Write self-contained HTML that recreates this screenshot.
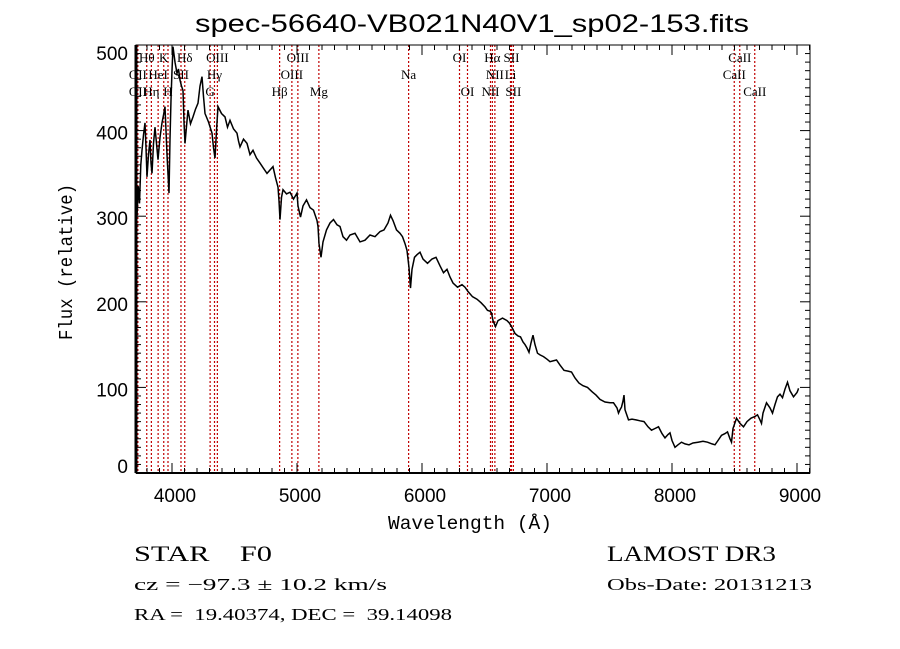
<!DOCTYPE html>
<html><head><meta charset="utf-8"><style>
html,body{margin:0;padding:0;background:#fff;}
svg{display:block;}
text{white-space:pre;}
</style></head><body>
<svg id="chart" width="900" height="649" viewBox="0 0 900 649" xmlns="http://www.w3.org/2000/svg">
<rect x="0" y="0" width="900" height="649" fill="#fff"/>
<text x="472" y="32" text-anchor="middle" font-family="Liberation Sans, sans-serif" font-size="25" textLength="554" lengthAdjust="spacingAndGlyphs">spec-56640-VB021N40V1_sp02-153.fits</text>
<g id="lines"></g>
<g id="spec"></g>
<g id="axes"></g>
<text x="470" y="529" text-anchor="middle" font-family="Liberation Mono, monospace" font-size="19" textLength="164" lengthAdjust="spacingAndGlyphs">Wavelength (Å)</text>
<text transform="translate(72,262) rotate(-90)" text-anchor="middle" font-family="Liberation Mono, monospace" font-size="19" textLength="156" lengthAdjust="spacingAndGlyphs">Flux (relative)</text>
<g font-family="Liberation Serif, serif" fill="#000">
<text x="134" y="561" font-size="22" textLength="138" lengthAdjust="spacingAndGlyphs" xml:space="preserve">STAR    F0</text>
<text x="607" y="561" font-size="22" textLength="169" lengthAdjust="spacingAndGlyphs">LAMOST DR3</text>
<text x="134" y="590" font-size="17" textLength="253" lengthAdjust="spacingAndGlyphs">cz = −97.3 ± 10.2 km/s</text>
<text x="607" y="590" font-size="17" textLength="205" lengthAdjust="spacingAndGlyphs">Obs-Date: 20131213</text>
<text x="134" y="620" font-size="17" textLength="318" lengthAdjust="spacingAndGlyphs" xml:space="preserve">RA =  19.40374, DEC =  39.14098</text>
</g>
</svg>
<script>
const wavelengths=[3712,3714,3716,3720,3730,3740,3750,3760,3772,3784,3792,3800,3812,3824,3832,3840,3852,3864,3876,3888,3904,3920,3932,3944,3960,3976,3984,3992,4000,4008,4024,4040,4052,4064,4076,4088,4096,4104,4116,4128,4148,4168,4188,4208,4224,4240,4252,4264,4292,4320,4332,4344,4356,4368,4396,4424,4444,4464,4492,4520,4532,4544,4572,4600,4624,4648,4676,4704,4732,4760,4784,4808,4828,4848,4856,4864,4876,4888,4916,4944,4972,5000,5008,5028,5048,5076,5104,5132,5160,5168,5176,5192,5208,5236,5264,5292,5320,5344,5368,5396,5424,5464,5504,5544,5584,5624,5664,5696,5728,5748,5768,5796,5824,5844,5864,5880,5896,5908,5920,5940,5960,5984,6008,6044,6080,6112,6144,6172,6200,6224,6248,6284,6320,6344,6368,6404,6440,6472,6504,6524,6544,6556,6568,6588,6608,6644,6680,6700,6720,6744,6768,6788,6808,6824,6840,6856,6872,6888,6904,6924,6944,6972,7000,7024,7048,7076,7104,7136,7168,7196,7224,7256,7288,7324,7360,7392,7424,7464,7504,7532,7560,7572,7584,7596,7608,7616,7624,7652,7680,7712,7744,7776,7808,7836,7864,7892,7920,7944,7968,7984,8000,8024,8048,8076,8104,8136,8168,8208,8248,8284,8320,8344,8368,8396,8424,8444,8464,8476,8488,8516,8544,8572,8600,8632,8664,8684,8704,8716,8728,8756,8784,8804,8824,8844,8864,8884,8904,8924,8944,8972,9000,9008,9012];
const fluxes=[10,140,330,300,335,315,360,377,395,409,380,346,372,389,362,350,385,404,385,366,392,409,418,428,372,327,390,436,470,498,480,467,472,459,452,447,410,385,405,424,408,416,425,432,452,463,440,420,410,397,380,368,400,428,420,416,404,412,402,397,388,381,390,385,372,377,368,362,356,350,354,358,345,334,318,296,322,331,326,328,320,327,312,299,312,319,310,307,295,288,268,252,270,284,292,296,290,288,276,272,278,280,270,272,278,276,282,284,292,301,295,284,280,276,268,260,240,216,238,252,255,258,250,245,250,252,242,234,238,229,222,217,220,217,212,206,203,199,194,190,189,187,178,171,178,181,178,175,170,163,160,159,153,150,146,141,152,161,150,140,138,136,133,130,131,132,126,120,119,118,111,105,102,100,95,91,86,83,82,82,76,70,74,77,84,91,74,62,63,62,61,60,54,50,52,54,46,41,45,47,38,30,33,36,34,33,35,36,37,36,34,33,38,44,46,48,40,36,52,64,58,54,60,64,66,68,62,58,70,82,76,70,80,89,92,88,98,106,96,89,94,97,99,5];
const lineWaves=[3727,3798,3835,3889,3934,3968,4072,4102,4305,4340,4363,4861,4959,5007,5175,5893,6300,6364,6548,6563,6583,6708,6716,6731,8498,8542,8662];
const labelNames=["Hθ","K","Hδ","OIII","OIII","OI","Hα","SII","CaII","OII","HeI","SII","Hγ","OIII","Na","NII","Li","CaII","OII","Hη","H","G","Hβ","Mg","OI","NII","SII","CaII"];
const labelWaves=[3798,3934,4102,4363,5007,6300,6563,6716,8542,3727,3889,4072,4340,4959,5893,6583,6708,8498,3727,3835,3968,4305,4861,5175,6364,6548,6731,8662];
const labelRows=[0,0,0,0,0,0,0,0,0,1,1,1,1,1,1,1,1,1,2,2,2,2,2,2,2,2,2,2];
const xTicks=[4000,5000,6000,7000,8000,9000];
const yTicks=[0,100,200,300,400,500];

const L=136,R=810,T=45,B=473;
const xs=w=>172+(w-4000)*0.125;
const ys=f=>B-f*0.856;
const NS="http://www.w3.org/2000/svg";
function mk(tag,attrs,parent){const e=document.createElementNS(NS,tag);for(const k in attrs)e.setAttribute(k,attrs[k]);parent.appendChild(e);return e;}

const gl=document.getElementById('lines');
lineWaves.forEach(w=>{
 const l=mk('line',{x1:xs(w),x2:xs(w),y1:T,y2:B,stroke:'#c00000','stroke-width':1.2,'stroke-dasharray':'2,2'},gl);
 
 
});
labelNames.forEach((n,i)=>{
 const t=mk('text',{x:xs(labelWaves[i]),y:62+labelRows[i]*17,'text-anchor':'middle','font-family':'Liberation Serif, serif','font-size':13},gl);
 t.textContent=n;
 
 
});

const gs=document.getElementById('spec');
let d='';
wavelengths.forEach((w,i)=>{d+=(i?'L':'M')+xs(w).toFixed(1)+','+ys(fluxes[i]).toFixed(1);});
const p=mk('path',{d:d,fill:'none',stroke:'#000','stroke-width':1.5},gs);



const ga=document.getElementById('axes');
mk('rect',{x:L,y:T,width:R-L,height:B-T,fill:'none',stroke:'#000','stroke-width':1},ga);
mk('line',{x1:L,x2:L,y1:T,y2:B,stroke:'#000','stroke-width':3},ga);
mk('line',{x1:L,x2:R,y1:B,y2:B,stroke:'#000','stroke-width':2},ga);
for(let w=3800;w<=9100;w+=100){
 const x=xs(w);const len=(w%1000===0)?10:5;
 mk('line',{x1:x,x2:x,y1:B,y2:B-len,stroke:'#000'},ga);
 mk('line',{x1:x,x2:x,y1:T,y2:T+len,stroke:'#000'},ga);
}
for(let f=10;f<=500;f+=10){
 const y=ys(f);const len=(f%100===0)?10:5;
 mk('line',{x1:L,x2:L+len,y1:y,y2:y,stroke:'#000'},ga);
 mk('line',{x1:R,x2:R-len,y1:y,y2:y,stroke:'#000'},ga);
}
xTicks.forEach(w=>{
 const t=mk('text',{x:xs(w)+3,y:502,'text-anchor':'middle','font-family':'Liberation Sans, sans-serif','font-size':19},ga);
 t.textContent=w;
 
 
});
yTicks.forEach(f=>{
 const by=Math.min(Math.max(ys(f)+9,60),473);
 const t=mk('text',{x:128,y:by,'text-anchor':'end','font-family':'Liberation Sans, sans-serif','font-size':19},ga);
 t.textContent=f;
 
 
});
</script>
</body></html>
